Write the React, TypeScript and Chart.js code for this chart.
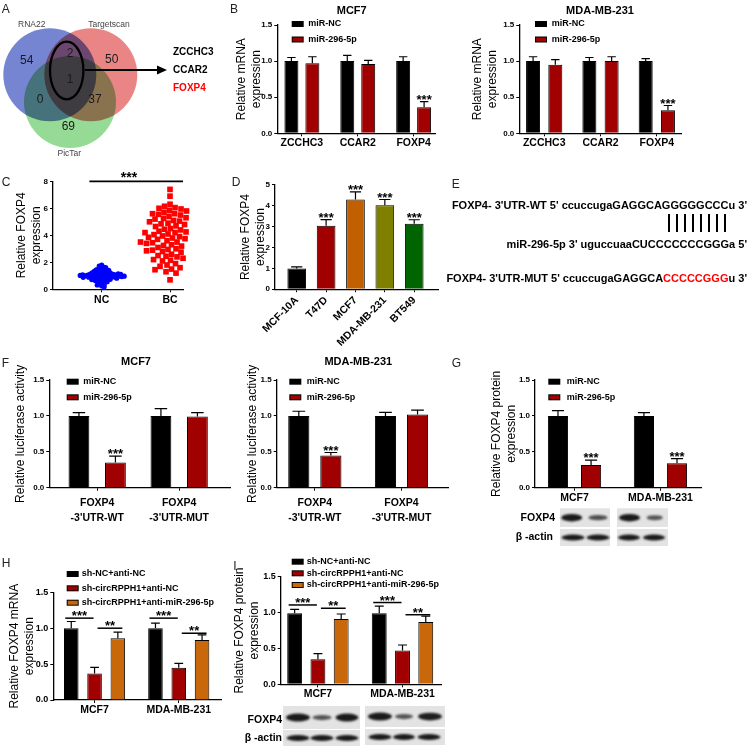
import React, { useEffect, useRef } from 'react';
import { Chart, registerables } from 'chart.js';

Chart.register(...registerables);

const FONT = '"Liberation Sans", Arial, Helvetica, sans-serif';
Chart.defaults.font.family = FONT;
Chart.defaults.color = '#000';

const BLACK = '#000000';
const RED = '#A00000';
const ORANGE = '#C8680A';

// ---------------- DATA ----------------
// A: Venn diagram
const VENN_SETS = ['RNA22', 'Targetscan', 'PicTar'];
// regions: RNA22 only, RNA22∩Targetscan, Targetscan only, all three, RNA22∩PicTar, Targetscan∩PicTar, PicTar only
const VENN_COUNTS = [54, 2, 50, 1, 0, 37, 69];
const VENN_GENES = ['ZCCHC3', 'CCAR2', 'FOXP4'];

// B: qPCR of candidate targets
const B_GENES = ['ZCCHC3', 'CCAR2', 'FOXP4'];
const MIR_SERIES = ['miR-NC', 'miR-296-5p'];
const B_MCF7_NC = [1.0, 1.0, 1.0];
const B_MCF7_NC_SD = [0.05, 0.08, 0.06];
const B_MCF7_MIR = [0.97, 0.96, 0.36];
const B_MCF7_MIR_SD = [0.09, 0.05, 0.08];
const B_MDA_NC = [1.0, 1.0, 1.0];
const B_MDA_NC_SD = [0.06, 0.05, 0.035];
const B_MDA_MIR = [0.95, 1.0, 0.32];
const B_MDA_MIR_SD = [0.07, 0.06, 0.065];
const B_SIG = ['', '', '***'];

// C: tissue expression (individual samples)
const C_GROUPS = ['NC', 'BC'];
const C_NC = [1.8, 1.72, 1.65, 1.6, 1.55, 1.52, 1.48, 1.45, 1.42, 1.4, 1.37, 1.35, 1.33, 1.3, 1.28, 1.26, 1.24, 1.22, 1.2, 1.18, 1.16, 1.15, 1.13, 1.12, 1.1, 1.09, 1.08, 1.06, 1.05, 1.04, 1.02, 1.01, 1.0, 0.99, 0.98, 0.97, 0.96, 0.95, 0.93, 0.92, 0.91, 0.9, 0.88, 0.87, 0.85, 0.84, 0.82, 0.8, 0.78, 0.76, 0.74, 0.72, 0.7, 0.68, 0.65, 0.62, 0.6, 0.56, 0.52, 0.48, 0.43, 0.38, 0.32, 0.25, 0.18, 1.07, 0.94, 1.11, 0.89, 1.03, 0.97, 1.14];
const C_BC = [7.4, 6.9, 6.3, 6.15, 6.05, 6.0, 5.95, 5.85, 5.8, 5.7, 5.6, 5.55, 5.5, 5.4, 5.3, 5.25, 5.2, 5.1, 5.05, 5.0, 4.9, 4.85, 4.8, 4.7, 4.65, 4.6, 4.5, 4.45, 4.4, 4.3, 4.25, 4.2, 4.1, 4.05, 4.0, 3.95, 3.9, 3.85, 3.8, 3.75, 3.7, 3.6, 3.55, 3.5, 3.45, 3.4, 3.3, 3.25, 3.2, 3.1, 3.05, 3.0, 2.95, 2.9, 2.8, 2.75, 2.7, 2.6, 2.5, 2.45, 2.4, 2.3, 2.2, 2.15, 2.1, 2.0, 1.9, 1.8, 1.7, 1.6, 1.5, 1.45, 1.3, 1.2, 0.7, 3.9, 4.2, 3.5, 2.85, 5.6];
const C_SIG = '***';

// D: cell lines
const D_LINES = ['MCF-10A', 'T47D', 'MCF7', 'MDA-MB-231', 'BT549'];
const D_VALUES = [0.99, 3.04, 4.3, 4.03, 3.14];
const D_SD = [0.08, 0.3, 0.37, 0.27, 0.19];
const D_SIG = ['', '***', '***', '***', '***'];
const D_COLORS = ['#000000', '#A00000', '#C06000', '#808000', '#006400'];

// E: binding sites
const E_WT = "FOXP4- 3'UTR-WT 5' ccuccugaGAGGCAGGGGGCCCu 3'";
const E_MIR = "miR-296-5p 3' uguccuaaCUCCCCCCCGGGa 5'";
const E_MUT = ["FOXP4- 3'UTR-MUT 5' ccuccugaGAGGCA", 'CCCCCGGG', "u 3'"];
const E_PAIRS = 8;

// F: luciferase
const F_CONSTRUCTS = [['FOXP4', "-3'UTR-WT"], ['FOXP4', "-3'UTR-MUT"]];
const F_MCF7_NC = [1.0, 1.0];
const F_MCF7_NC_SD = [0.046, 0.1];
const F_MCF7_MIR = [0.35, 0.99];
const F_MCF7_MIR_SD = [0.09, 0.056];
const F_MDA_NC = [1.0, 1.0];
const F_MDA_NC_SD = [0.065, 0.05];
const F_MDA_MIR = [0.45, 1.02];
const F_MDA_MIR_SD = [0.04, 0.06];
const F_SIG = ['***', ''];

// G: protein
const CELLS = ['MCF7', 'MDA-MB-231'];
const G_NC = [1.0, 1.0];
const G_NC_SD = [0.074, 0.046];
const G_MIR = [0.315, 0.34];
const G_MIR_SD = [0.07, 0.065];
const G_SIG = ['***', '***'];
const G_FOXP4_BANDS = [[1.0, 0.5], [1.0, 0.45]];
const G_ACTIN_BANDS = [[1.0, 1.0], [1.0, 1.0]];

// H / I: rescue
const HI_SERIES = ['sh-NC+anti-NC', 'sh-circRPPH1+anti-NC', 'sh-circRPPH1+anti-miR-296-5p'];
const H_CTRL = [1.0, 1.0];
const H_CTRL_SD = [0.093, 0.07];
const H_SH = [0.37, 0.45];
const H_SH_SD = [0.085, 0.06];
const H_RESCUE = [0.86, 0.837];
const H_RESCUE_SD = [0.084, 0.07];
const H_SIG_Y = [1.14, 1.0, 1.14, 0.93];
const I_CTRL = [0.99, 0.99];
const I_CTRL_SD = [0.055, 0.1];
const I_SH = [0.35, 0.47];
const I_SH_SD = [0.078, 0.078];
const I_RESCUE = [0.91, 0.87];
const I_RESCUE_SD = [0.07, 0.08];
const I_SIG_Y = [1.106, 1.06, 1.14, 0.97];
const HI_SIG_TEXT = ['***', '**', '***', '**'];
const I_FOXP4_BANDS = [[1.0, 0.45, 1.0], [1.0, 0.45, 0.95]];
const I_ACTIN_BANDS = [[1.0, 1.0, 1.0], [1.0, 1.0, 1.0]];

// ---------------- HELPERS ----------------
function sigLinesFrom(ys: number[]) {
  return [
    { group: 0, from: 0, to: 1, y: ys[0], text: HI_SIG_TEXT[0] },
    { group: 0, from: 1, to: 2, y: ys[1], text: HI_SIG_TEXT[1] },
    { group: 1, from: 0, to: 1, y: ys[2], text: HI_SIG_TEXT[2] },
    { group: 1, from: 1, to: 2, y: ys[3], text: HI_SIG_TEXT[3] },
  ];
}

function drawBlots(ctx: any, rows: any[], ox: number, oy: number) {
  rows.forEach((row) => {
    ctx.save();
    ctx.font = `bold 10.5px ${FONT}`;
    ctx.textAlign = 'right';
    ctx.textBaseline = 'middle';
    ctx.fillStyle = '#000';
    ctx.fillText(row.label, row.labelRight - ox, row.labelY - oy);
    row.boxes.forEach((b: any, bi: number) => {
      ctx.fillStyle = '#e3e3e3';
      ctx.fillRect(b.x1 - ox, b.y1 - oy, b.x2 - b.x1, b.y2 - b.y1);
      const cy = (b.y1 + b.y2) / 2 - oy;
      row.strength[bi].forEach((st: number, li: number) => {
        const cx = b.lanes[li] - ox;
        const w = b.widths[li];
        const h = row.minH + (row.maxH - row.minH) * st;
        ctx.save();
        ctx.filter = 'blur(1px)';
        ctx.fillStyle = `rgba(15,15,15,${0.45 + 0.5 * st})`;
        ctx.beginPath();
        ctx.ellipse(cx, cy, w / 2, h / 2, 0, 0, Math.PI * 2);
        ctx.fill();
        ctx.restore();
      });
    });
    ctx.restore();
  });
}

function barPlugin(s: any) {
  const ox = s.box.x;
  const oy = s.box.y;
  return {
    id: 'panelBar',
    afterDatasetsDraw(chart: any) {
      const ctx = chart.ctx;
      const ys = chart.scales.y;
      ctx.save();
      ctx.strokeStyle = '#000';
      ctx.fillStyle = '#000';
      s.series.forEach((se: any, di: number) => {
        const meta = chart.getDatasetMeta(di);
        meta.data.forEach((bar: any, i: number) => {
          const v = se.values[i];
          const e = se.sd[i];
          const x = bar.x;
          const w = bar.width;
          const y0 = ys.getPixelForValue(v);
          const y1 = ys.getPixelForValue(v + e);
          ctx.lineWidth = 1.2;
          ctx.beginPath();
          ctx.moveTo(x, y0);
          ctx.lineTo(x, y1);
          ctx.moveTo(x - w * 0.3, y1);
          ctx.lineTo(x + w * 0.3, y1);
          ctx.stroke();
          const sg = se.sig ? se.sig[i] : '';
          if (sg) {
            ctx.font = `bold 13px ${FONT}`;
            ctx.textAlign = 'center';
            ctx.textBaseline = 'alphabetic';
            ctx.fillText(sg, x, y1 + 2);
          }
        });
      });
      (s.sigLines || []).forEach((sl: any) => {
        const a = chart.getDatasetMeta(sl.from).data[sl.group];
        const b = chart.getDatasetMeta(sl.to).data[sl.group];
        const d = sl.from === 0 ? [-6, -1] : [3, 4.5];
        const x1 = a.x + d[0];
        const x2 = b.x + d[1];
        const y = ys.getPixelForValue(sl.y);
        ctx.lineWidth = 1.5;
        ctx.beginPath();
        ctx.moveTo(x1, y);
        ctx.lineTo(x2, y);
        ctx.stroke();
        ctx.font = `bold 13px ${FONT}`;
        ctx.textAlign = 'center';
        ctx.textBaseline = 'alphabetic';
        ctx.fillText(sl.text, (x1 + x2) / 2, y + 2);
      });
      ctx.restore();
    },
    afterDraw(chart: any) {
      const ctx = chart.ctx;
      ctx.save();
      if (s.legend) {
        s.series.forEach((se: any, i: number) => {
          const x = s.legend.x - ox;
          const y = s.legend.y[i] - oy;
          ctx.fillStyle = '#000';
          ctx.fillRect(x, y - 3, 12, 6);
          ctx.fillStyle = se.color;
          ctx.fillRect(x + 1, y - 2, 10, 4);
          ctx.fillStyle = '#000';
          ctx.font = `bold 9px ${FONT}`;
          ctx.textAlign = 'left';
          ctx.textBaseline = 'middle';
          ctx.fillText(se.label, s.legend.textX - ox, y);
        });
      }
      if (s.title) {
        ctx.fillStyle = '#000';
        ctx.font = `bold 11px ${FONT}`;
        ctx.textAlign = 'center';
        ctx.textBaseline = 'middle';
        ctx.fillText(s.title.text, s.title.x - ox, s.title.y - oy);
      }
      if (s.blots) drawBlots(ctx, s.blots, ox, oy);
      ctx.restore();
    },
  };
}

function makeBarConfig(s: any) {
  const padTop = s.area.t - s.box.y;
  const padRight = s.box.x + s.box.w - s.area.r;
  const yW = s.area.l - s.box.x;
  const xH = s.box.y + s.box.h - s.area.b;
  const tSize = 12;
  const lh = tSize * 1.2;
  const idx = s.categories.map((_: any, i: number) => i);
  return {
    type: 'bar',
    data: {
      datasets: s.series.map((se: any) => ({
        label: se.label,
        data: se.values.map((v: number, i: number) => ({ x: i, y: v })),
        backgroundColor: se.color,
        borderColor: '#000',
        borderWidth: 1,
        categoryPercentage: s.catPct,
        barPercentage: s.barPct,
      })),
    },
    options: {
      animation: false,
      responsive: false,
      events: [],
      layout: { autoPadding: false, padding: { left: 0, top: padTop, right: padRight, bottom: 0 } },
      plugins: { legend: { display: false }, tooltip: { enabled: false } },
      scales: {
        x: {
          type: 'linear',
          min: s.xRange[0],
          max: s.xRange[1],
          offset: false,
          afterBuildTicks: (ax: any) => {
            ax.ticks = idx.map((v: number) => ({ value: v }));
          },
          afterFit: (ax: any) => {
            ax.height = xH;
          },
          grid: { display: true, offset: false, drawOnChartArea: false, drawTicks: true, tickLength: 3, color: '#000', lineWidth: 1 },
          border: { display: true, color: '#000', width: 1.3 },
          ticks: {
            autoSkip: false,
            maxRotation: s.catRotate || 0,
            minRotation: s.catRotate || 0,
            padding: s.catPad,
            color: '#000',
            font: { size: s.catSize, weight: 'bold', lineHeight: s.catLH || 1.2 },
            callback: (v: any) => {
              const c = s.categories[Math.round(Number(v))];
              return c === undefined ? '' : c;
            },
          },
        },
        y: {
          type: 'linear',
          min: s.yMin,
          max: s.yMax,
          afterFit: (ax: any) => {
            ax.width = yW;
          },
          grid: { display: true, drawOnChartArea: false, drawTicks: true, tickLength: 3, color: '#000', lineWidth: 1 },
          border: { display: true, color: '#000', width: 1.3 },
          ticks: {
            stepSize: s.yStep,
            padding: 2,
            color: '#000',
            font: { size: s.tickSize, weight: 'bold' },
            callback: (v: any) => Number(v).toFixed(s.yDec),
          },
          title: {
            display: true,
            text: s.yTitle,
            color: '#000',
            font: { size: tSize, lineHeight: 1.2 },
            padding: { top: s.yTitleX - s.box.x - lh / 2, bottom: 0 },
          },
        },
      },
    },
    plugins: [barPlugin(s)],
  };
}

// ---------------- PANEL SPECS ----------------
const SPEC_B1 = {
  box: { x: 225, y: 0, w: 262, h: 160 },
  area: { l: 277.3, t: 25, r: 435.7, b: 133.3 },
  xRange: [-0.44, 2.395],
  yMin: 0, yMax: 1.5, yStep: 0.5, yDec: 1,
  categories: B_GENES,
  series: [
    { label: MIR_SERIES[0], values: B_MCF7_NC, sd: B_MCF7_NC_SD, color: BLACK },
    { label: MIR_SERIES[1], values: B_MCF7_MIR, sd: B_MCF7_MIR_SD, color: RED, sig: B_SIG },
  ],
  catPct: 0.75, barPct: 0.667,
  yTitle: ['Relative mRNA', 'expression'], yTitleX: 242,
  tickSize: 8, catSize: 10.5, catPad: 0.5,
  legend: { x: 291.7, y: [24, 39.5], textX: 308.3 },
  title: { text: 'MCF7', x: 351.7, y: 11 },
};

const SPEC_B2 = {
  box: { x: 465, y: 0, w: 285, h: 160 },
  area: { l: 519.3, t: 25, r: 681.7, b: 133.3 },
  xRange: [-0.442, 2.442],
  yMin: 0, yMax: 1.5, yStep: 0.5, yDec: 1,
  categories: B_GENES,
  series: [
    { label: MIR_SERIES[0], values: B_MDA_NC, sd: B_MDA_NC_SD, color: BLACK },
    { label: MIR_SERIES[1], values: B_MDA_MIR, sd: B_MDA_MIR_SD, color: RED, sig: B_SIG },
  ],
  catPct: 0.79, barPct: 0.63,
  yTitle: ['Relative mRNA', 'expression'], yTitleX: 478,
  tickSize: 8, catSize: 10.5, catPad: 0.5,
  legend: { x: 535, y: [24, 39.5], textX: 551.7 },
  title: { text: 'MDA-MB-231', x: 600, y: 11 },
};

const SPEC_D = {
  box: { x: 225, y: 170, w: 225, h: 185 },
  area: { l: 275, t: 184.9, r: 438.3, b: 289.2 },
  xRange: [-0.74, 4.82],
  yMin: 0, yMax: 5, yStep: 1, yDec: 0,
  categories: D_LINES,
  series: [{ label: 'FOXP4', values: D_VALUES, sd: D_SD, color: D_COLORS, sig: D_SIG }],
  catPct: 1, barPct: 0.636,
  yTitle: ['Relative FOXP4', 'expression'], yTitleX: 246,
  tickSize: 8, catSize: 10.5, catPad: 2, catRotate: 45,
};

const SPEC_F1 = {
  box: { x: 0, y: 350, w: 240, h: 180 },
  area: { l: 49.3, t: 380, r: 230, b: 487.7 },
  xRange: [-0.584, 1.62],
  yMin: 0, yMax: 1.5, yStep: 0.5, yDec: 1,
  categories: F_CONSTRUCTS,
  series: [
    { label: MIR_SERIES[0], values: F_MCF7_NC, sd: F_MCF7_NC_SD, color: BLACK },
    { label: MIR_SERIES[1], values: F_MCF7_MIR, sd: F_MCF7_MIR_SD, color: RED, sig: F_SIG },
  ],
  catPct: 0.89, barPct: 0.57,
  yTitle: ['Relative luciferase activity'], yTitleX: 21,
  tickSize: 8, catSize: 10.5, catPad: 4.5, catLH: 1.45,
  legend: { x: 66.7, y: [381.7, 397.3], textX: 83.3 },
  title: { text: 'MCF7', x: 136, y: 361.7 },
};

const SPEC_F2 = {
  box: { x: 235, y: 350, w: 225, h: 180 },
  area: { l: 276.7, t: 380, r: 448.3, b: 487.7 },
  xRange: [-0.44, 1.54],
  yMin: 0, yMax: 1.5, yStep: 0.5, yDec: 1,
  categories: F_CONSTRUCTS,
  series: [
    { label: MIR_SERIES[0], values: F_MDA_NC, sd: F_MDA_NC_SD, color: BLACK },
    { label: MIR_SERIES[1], values: F_MDA_MIR, sd: F_MDA_MIR_SD, color: RED, sig: F_SIG },
  ],
  catPct: 0.74, barPct: 0.66,
  yTitle: ['Relative luciferase activity'], yTitleX: 253,
  tickSize: 8, catSize: 10.5, catPad: 4.5, catLH: 1.45,
  legend: { x: 289.3, y: [381.7, 397.3], textX: 306.7 },
  title: { text: 'MDA-MB-231', x: 358.3, y: 361.7 },
};

const SPEC_G = {
  box: { x: 480, y: 350, w: 270, h: 200 },
  area: { l: 535, t: 380, r: 701.7, b: 487.7 },
  xRange: [-0.46, 1.48],
  yMin: 0, yMax: 1.5, yStep: 0.5, yDec: 1,
  categories: CELLS,
  series: [
    { label: MIR_SERIES[0], values: G_NC, sd: G_NC_SD, color: BLACK },
    { label: MIR_SERIES[1], values: G_MIR, sd: G_MIR_SD, color: RED, sig: G_SIG },
  ],
  catPct: 0.77, barPct: 0.61,
  yTitle: ['Relative FOXP4 protein', 'expression'], yTitleX: 497,
  tickSize: 8, catSize: 10.5, catPad: 1.3,
  legend: { x: 548.3, y: [381.7, 397.3], textX: 566.7 },
  blots: [
    {
      label: 'FOXP4', labelRight: 555, labelY: 518.3, minH: 3, maxH: 7.5, strength: G_FOXP4_BANDS,
      boxes: [
        { x1: 560, x2: 610, y1: 508.3, y2: 527, lanes: [571.7, 598], widths: [21, 19] },
        { x1: 617, x2: 668, y1: 508.3, y2: 527, lanes: [629.5, 654.7], widths: [21, 16] },
      ],
    },
    {
      label: 'β -actin', labelRight: 553, labelY: 537.3, minH: 3, maxH: 6, strength: G_ACTIN_BANDS,
      boxes: [
        { x1: 560, x2: 610, y1: 529, y2: 546, lanes: [573, 598], widths: [23, 23] },
        { x1: 617, x2: 668, y1: 529, y2: 546, lanes: [629, 654], widths: [22, 22] },
      ],
    },
  ],
};

const SPEC_H = {
  box: { x: 0, y: 555, w: 235, h: 191 },
  area: { l: 53.3, t: 592.3, r: 221.7, b: 700 },
  xRange: [-0.49, 1.51],
  yMin: 0, yMax: 1.5, yStep: 0.5, yDec: 1,
  categories: CELLS,
  series: [
    { label: HI_SERIES[0], values: H_CTRL, sd: H_CTRL_SD, color: BLACK },
    { label: HI_SERIES[1], values: H_SH, sd: H_SH_SD, color: RED },
    { label: HI_SERIES[2], values: H_RESCUE, sd: H_RESCUE_SD, color: ORANGE },
  ],
  catPct: 0.83, barPct: 0.625,
  yTitle: ['Relative FOXP4 mRNA', 'expression'], yTitleX: 15,
  tickSize: 9, catSize: 10.5, catPad: 0.7,
  legend: { x: 66.7, y: [574, 588.3, 602.7], textX: 81.7 },
  sigLines: sigLinesFrom(H_SIG_Y),
};

const SPEC_I = {
  box: { x: 225, y: 550, w: 240, h: 196 },
  area: { l: 280.7, t: 576.7, r: 441, b: 684.3 },
  xRange: [-0.44, 1.455],
  yMin: 0, yMax: 1.5, yStep: 0.5, yDec: 1,
  categories: CELLS,
  series: [
    { label: HI_SERIES[0], values: I_CTRL, sd: I_CTRL_SD, color: BLACK },
    { label: HI_SERIES[1], values: I_SH, sd: I_SH_SD, color: RED },
    { label: HI_SERIES[2], values: I_RESCUE, sd: I_RESCUE_SD, color: ORANGE },
  ],
  catPct: 0.825, barPct: 0.64,
  yTitle: ['Relative FOXP4 protein', 'expression'], yTitleX: 240,
  tickSize: 9, catSize: 10.5, catPad: 0.7,
  legend: { x: 291.7, y: [561.7, 573.3, 585], textX: 306.7 },
  sigLines: sigLinesFrom(I_SIG_Y),
  blots: [
    {
      label: 'FOXP4', labelRight: 282, labelY: 720, minH: 3, maxH: 8, strength: I_FOXP4_BANDS,
      boxes: [
        { x1: 283, x2: 360, y1: 706, y2: 729, lanes: [298, 322, 347], widths: [24, 19, 23] },
        { x1: 365, x2: 445, y1: 706, y2: 727, lanes: [380, 404, 430], widths: [24, 18, 24] },
      ],
    },
    {
      label: 'β -actin', labelRight: 282, labelY: 738, minH: 3, maxH: 6, strength: I_ACTIN_BANDS,
      boxes: [
        { x1: 283, x2: 360, y1: 730, y2: 746, lanes: [298, 322, 347], widths: [23, 23, 23] },
        { x1: 365, x2: 445, y1: 729, y2: 745, lanes: [380, 404, 429], widths: [23, 22, 23] },
      ],
    },
  ],
};

// C scatter layout
const SPEC_C = {
  box: { x: 0, y: 165, w: 200, h: 150 },
  area: { l: 53, t: 181.3, r: 183, b: 289.3 },
  xRange: [-0.713, 1.19],
  yTitle: ['Relative FOXP4', 'expression'], yTitleX: 22,
  sig: { x1: -0.18, x2: 1.19, y: 8, textX: 0.4 },
};

function makeCConfig() {
  const s = SPEC_C;
  const padTop = s.area.t - s.box.y;
  const padRight = s.box.x + s.box.w - s.area.r;
  const yW = s.area.l - s.box.x;
  const xH = s.box.y + s.box.h - s.area.b;
  const lh = 12 * 1.2;
  return {
    type: 'scatter',
    data: {
      datasets: [
        { label: C_GROUPS[0], data: C_NC.map((v) => ({ x: 0, y: v })), pointStyle: 'circle', pointRadius: 2.6, pointBackgroundColor: '#0000FF', pointBorderWidth: 0, clip: false },
        { label: C_GROUPS[1], data: C_BC.map((v) => ({ x: 1, y: v })), pointStyle: 'rect', pointRadius: 4, pointBackgroundColor: '#FF0000', pointBorderWidth: 0, clip: false },
      ],
    },
    options: {
      animation: false,
      responsive: false,
      events: [],
      layout: { autoPadding: false, padding: { left: 0, top: padTop, right: padRight, bottom: 0 } },
      plugins: { legend: { display: false }, tooltip: { enabled: false } },
      scales: {
        x: {
          type: 'linear', min: s.xRange[0], max: s.xRange[1],
          afterBuildTicks: (ax: any) => { ax.ticks = [{ value: 0 }, { value: 1 }]; },
          afterFit: (ax: any) => { ax.height = xH; },
          grid: { display: true, drawOnChartArea: false, drawTicks: true, tickLength: 3, color: '#000' },
          border: { display: true, color: '#000', width: 1.3 },
          ticks: { autoSkip: false, maxRotation: 0, padding: 1.7, color: '#000', font: { size: 10.5, weight: 'bold' }, callback: (v: any) => C_GROUPS[Math.round(Number(v))] },
        },
        y: {
          type: 'linear', min: 0, max: 8,
          afterFit: (ax: any) => { ax.width = yW; },
          grid: { display: true, drawOnChartArea: false, drawTicks: true, tickLength: 3, color: '#000' },
          border: { display: true, color: '#000', width: 1.3 },
          ticks: { stepSize: 2, padding: 2, color: '#000', font: { size: 8, weight: 'bold' } },
          title: { display: true, text: s.yTitle, color: '#000', font: { size: 12, lineHeight: 1.2 }, padding: { top: s.yTitleX - s.box.x - lh / 2, bottom: 0 } },
        },
      },
    },
    plugins: [
      {
        id: 'cSig',
        afterDraw(chart: any) {
          const ctx = chart.ctx;
          const xs = chart.scales.x;
          const ys = chart.scales.y;
          const y = ys.getPixelForValue(s.sig.y);
          ctx.save();
          ctx.strokeStyle = '#000';
          ctx.lineWidth = 1.8;
          ctx.beginPath();
          ctx.moveTo(xs.getPixelForValue(s.sig.x1), y);
          ctx.lineTo(xs.getPixelForValue(s.sig.x2), y);
          ctx.stroke();
          ctx.fillStyle = '#000';
          ctx.font = `bold 14px ${FONT}`;
          ctx.textAlign = 'center';
          ctx.textBaseline = 'alphabetic';
          ctx.fillText(C_SIG, xs.getPixelForValue(s.sig.textX), y + 1);
          ctx.restore();
        },
      },
    ],
  };
}

function applySwarm(chart: any) {
  const xs = chart.scales.x;
  const ys = chart.scales.y;
  const unit = xs.getPixelForValue(1) - xs.getPixelForValue(0);
  [C_NC, C_BC].forEach((vals, di) => {
    const d = di === 0 ? 2.3 : 5.8;
    const placed: number[][] = [];
    const data = vals.map((v, n) => {
      const py = ys.getPixelForValue(v);
      let off = 0;
      for (let k = 0; k < 400; k++) {
        const c = k === 0 ? [0] : n % 2 === 0 ? [k * 0.5, -k * 0.5] : [-k * 0.5, k * 0.5];
        let found: number | null = null;
        for (const cand of c) {
          if (placed.every((p) => (p[0] - cand) ** 2 + (p[1] - py) ** 2 >= d * d)) {
            found = cand;
            break;
          }
        }
        if (found !== null) {
          off = found;
          break;
        }
      }
      placed.push([off, py]);
      return { x: di + off / unit, y: v };
    });
    chart.data.datasets[di].data = data;
  });
  chart.update();
}

// Venn layout
const VENN_LAYOUT = {
  box: { x: 0, y: 0, w: 240, h: 170 },
  circles: [
    { x: 49.8, y: 74.8, r: 46.5, color: '#7585D2' },
    { x: 90.8, y: 74.8, r: 46.5, color: '#EA8585' },
    { x: 70, y: 102, r: 46, color: '#95DA95' },
  ],
  setLabels: [[31.7, 25], [109, 25], [69.3, 153.3]],
  countPos: [[26.7, 60.7], [70, 53.3], [111.7, 60], [70, 80], [40, 99.3], [95, 100], [68.3, 126.7]],
  ellipse: { x: 66.7, y: 70.5, rx: 16.7, ry: 28.8 },
  arrow: { x1: 85, x2: 167, y: 70 },
  genes: { x: 173, y: [52.7, 70, 88.3], colors: ['#000', '#000', '#FF0000'] },
};

function makeVennConfig() {
  const L = VENN_LAYOUT;
  return {
    type: 'bubble',
    data: {
      datasets: [
        {
          label: 'sets',
          data: L.circles.map((c) => ({ x: c.x, y: c.y, r: c.r })),
          backgroundColor: L.circles.map((c) => c.color),
          borderWidth: 0,
          hoverRadius: 0,
          clip: false,
        },
      ],
    },
    options: {
      animation: false,
      responsive: false,
      events: [],
      layout: { autoPadding: false, padding: 0 },
      plugins: { legend: { display: false }, tooltip: { enabled: false } },
      scales: {
        x: { type: 'linear', display: false, min: 0, max: L.box.w },
        y: { type: 'linear', display: false, min: 0, max: L.box.h, reverse: true },
      },
    },
    plugins: [
      {
        id: 'venn',
        beforeDatasetsDraw(chart: any) {
          chart.ctx.save();
          chart.ctx.globalCompositeOperation = 'multiply';
        },
        afterDatasetsDraw(chart: any) {
          const ctx = chart.ctx;
          ctx.restore();
          const xs = chart.scales.x;
          const ys = chart.scales.y;
          const px = (v: number) => xs.getPixelForValue(v);
          const py = (v: number) => ys.getPixelForValue(v);
          ctx.save();
          ctx.textAlign = 'center';
          ctx.textBaseline = 'middle';
          ctx.fillStyle = '#444';
          ctx.font = `8.5px ${FONT}`;
          VENN_SETS.forEach((name, i) => ctx.fillText(name, px(L.setLabels[i][0]), py(L.setLabels[i][1])));
          ctx.fillStyle = '#1a1a1a';
          ctx.font = `12px ${FONT}`;
          VENN_COUNTS.forEach((n, i) => ctx.fillText(String(n), px(L.countPos[i][0]), py(L.countPos[i][1])));
          ctx.strokeStyle = '#000';
          ctx.lineWidth = 2.3;
          ctx.beginPath();
          ctx.ellipse(px(L.ellipse.x), py(L.ellipse.y), L.ellipse.rx, L.ellipse.ry, 0, 0, Math.PI * 2);
          ctx.stroke();
          ctx.lineWidth = 2;
          ctx.beginPath();
          ctx.moveTo(px(L.arrow.x1), py(L.arrow.y));
          ctx.lineTo(px(L.arrow.x2) - 8, py(L.arrow.y));
          ctx.stroke();
          ctx.fillStyle = '#000';
          ctx.beginPath();
          ctx.moveTo(px(L.arrow.x2), py(L.arrow.y));
          ctx.lineTo(px(L.arrow.x2) - 10, py(L.arrow.y) - 4.5);
          ctx.lineTo(px(L.arrow.x2) - 10, py(L.arrow.y) + 4.5);
          ctx.closePath();
          ctx.fill();
          ctx.font = `bold 10px ${FONT}`;
          ctx.textAlign = 'left';
          VENN_GENES.forEach((g, i) => {
            ctx.fillStyle = L.genes.colors[i];
            ctx.fillText(g, px(L.genes.x), py(L.genes.y[i]));
          });
          ctx.restore();
        },
      },
    ],
  };
}

// ---------------- COMPONENTS ----------------
function ChartCanvas({ box, make, after }: { box: any; make: () => any; after?: (c: any) => void }) {
  const ref = useRef<HTMLCanvasElement>(null);
  useEffect(() => {
    const chart: any = new Chart(ref.current as HTMLCanvasElement, make());
    if (after) after(chart);
    return () => chart.destroy();
  }, []);
  return (
    <canvas
      ref={ref}
      width={box.w}
      height={box.h}
      style={{ position: 'absolute', left: box.x, top: box.y, width: box.w, height: box.h }}
    />
  );
}

const LETTERS: [string, number, number][] = [
  ['A', 1.7, 3.4], ['B', 230, 3.4], ['C', 1.7, 176.4], ['D', 231.7, 176.4], ['E', 451.7, 177.5],
  ['F', 1.7, 357.4], ['G', 451.7, 357], ['H', 1.7, 557], ['I', 233.3, 560],
];

const E_LAYOUT = { right: 3, y: [205, 244, 278], barX0: 669.3, barDx: 7.96, barY1: 214, barY2: 232 };

export default function App() {
  const eText = (y: number, content: any) => (
    <div
      style={{
        position: 'absolute', right: E_LAYOUT.right, top: y, transform: 'translateY(-50%)',
        font: `bold 11px ${FONT}`, lineHeight: '13px', whiteSpace: 'nowrap', color: '#000',
      }}
    >
      {content}
    </div>
  );
  return (
    <div style={{ position: 'absolute', left: 0, top: 0, width: 750, height: 746, background: '#fff', overflow: 'hidden', fontFamily: FONT }}>
      <ChartCanvas box={VENN_LAYOUT.box} make={makeVennConfig} />
      <ChartCanvas box={SPEC_B1.box} make={() => makeBarConfig(SPEC_B1)} />
      <ChartCanvas box={SPEC_B2.box} make={() => makeBarConfig(SPEC_B2)} />
      <ChartCanvas box={SPEC_C.box} make={makeCConfig} after={applySwarm} />
      <ChartCanvas box={SPEC_D.box} make={() => makeBarConfig(SPEC_D)} />
      <ChartCanvas box={SPEC_F1.box} make={() => makeBarConfig(SPEC_F1)} />
      <ChartCanvas box={SPEC_F2.box} make={() => makeBarConfig(SPEC_F2)} />
      <ChartCanvas box={SPEC_G.box} make={() => makeBarConfig(SPEC_G)} />
      <ChartCanvas box={SPEC_H.box} make={() => makeBarConfig(SPEC_H)} />
      <ChartCanvas box={SPEC_I.box} make={() => makeBarConfig(SPEC_I)} />

      {eText(E_LAYOUT.y[0], E_WT)}
      {eText(E_LAYOUT.y[1], E_MIR)}
      {eText(
        E_LAYOUT.y[2],
        <span>
          {E_MUT[0]}
          <span style={{ color: '#FF0000' }}>{E_MUT[1]}</span>
          {E_MUT[2]}
        </span>
      )}
      {Array.from({ length: E_PAIRS }).map((_, i) => (
        <div
          key={i}
          style={{
            position: 'absolute', left: E_LAYOUT.barX0 + i * E_LAYOUT.barDx - 1, top: E_LAYOUT.barY1,
            width: 2.2, height: E_LAYOUT.barY2 - E_LAYOUT.barY1, background: '#000',
          }}
        />
      ))}

      {LETTERS.map(([t, x, y]) => (
        <div key={t} style={{ position: 'absolute', left: x, top: y, font: `12px ${FONT}`, lineHeight: '12px', color: '#222' }}>
          {t}
        </div>
      ))}
    </div>
  );
}
